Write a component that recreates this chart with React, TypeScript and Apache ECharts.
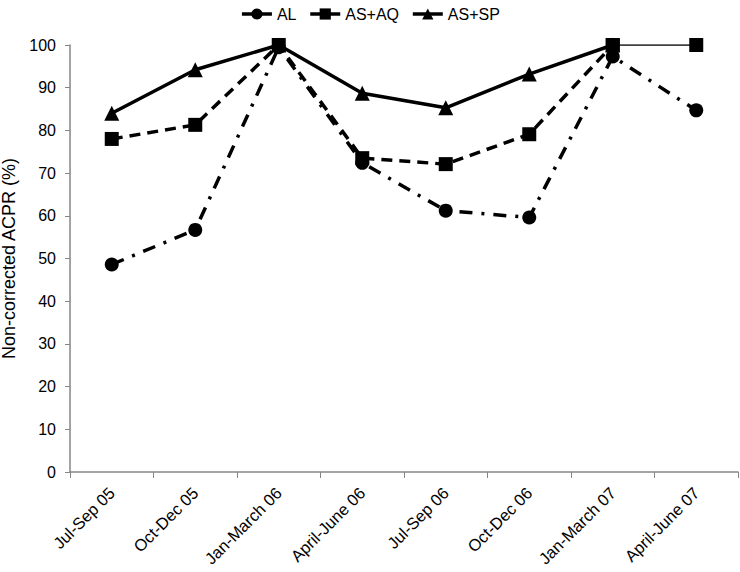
import React, { useEffect, useRef } from "react";
import * as echarts from "echarts";

const categories = ["Jul-Sep 05", "Oct-Dec 05", "Jan-March 06", "April-June 06", "Jul-Sep 06", "Oct-Dec 06", "Jan-March 07", "April-June 07"];
const alValues = [48.6, 56.7, 99.5, 72.4, 61.2, 59.6, 97.3, 84.7];
const asAqValues = [78, 81.3, 100, 73.5, 72.1, 79.1, 100, 100];
const asSpValues = [84, 94.2, 100, 88.7, 85.3, 93.2, 100, null];
const asAqTail = [null, null, null, null, null, null, 100, 100];
const yTicks = { min: 0, max: 100, interval: 10 };

export default function App() {
  const ref = useRef<HTMLDivElement>(null);
  useEffect(() => {
    const chart = echarts.init(ref.current!, null, { renderer: "svg" });
    const font = "Liberation Sans";
    chart.setOption({
      animation: false,
      textStyle: { fontFamily: font },
      legend: {
        top: 1,
        left: "center",
        itemWidth: 30,
        itemHeight: 14,
        itemGap: 12,
        lineStyle: { type: "solid", width: 3.5 },
        textStyle: { fontSize: 16, color: "#000", fontFamily: font },
        data: ["AL", "AS+AQ", "AS+SP"],
      },
      grid: { left: 70, right: 2, top: 45, bottom: 100, containLabel: false, outerBoundsMode: "none" },
      xAxis: {
        type: "category",
        data: categories,
        boundaryGap: true,
        axisLine: { lineStyle: { color: "#868686", width: 1.5 } },
        axisTick: { show: true, length: 6, lineStyle: { color: "#868686" } },
        axisLabel: { rotate: 45, fontSize: 16.5, color: "#000", margin: 18, interval: 0, fontFamily: font },
      },
      yAxis: {
        type: "value",
        min: yTicks.min,
        max: yTicks.max,
        interval: yTicks.interval,
        name: "Non-corrected ACPR (%)",
        nameLocation: "middle",
        nameGap: 46,
        nameTextStyle: { fontSize: 18, color: "#000", fontFamily: font },
        splitLine: { show: false },
        axisLine: { show: true, lineStyle: { color: "#868686", width: 1.5 } },
        axisTick: { show: true, length: 5, lineStyle: { color: "#868686" } },
        axisLabel: { fontSize: 16, color: "#000", margin: 14, fontFamily: font },
      },
      series: [
        {
          name: "AL",
          type: "line",
          data: alValues,
          symbol: "circle",
          symbolSize: 14,
          itemStyle: { color: "#000" },
          lineStyle: { color: "#000", width: 3.5, type: [13, 9, 3, 9] },
          z: 2,
        },
        {
          name: "AS+AQ",
          type: "line",
          data: asAqValues.map((v, i) => (i === 7 ? null : v)),
          symbol: "rect",
          symbolSize: 14,
          itemStyle: { color: "#000" },
          lineStyle: { color: "#000", width: 3.5, type: [11, 7] },
          z: 3,
        },
        {
          name: "AS+AQ",
          type: "line",
          data: asAqTail,
          symbol: "rect",
          symbolSize: 14,
          itemStyle: { color: "#000" },
          lineStyle: { color: "#000", width: 1.5, type: "solid" },
          z: 3,
        },
        {
          name: "AS+SP",
          type: "line",
          data: asSpValues,
          symbol: "triangle",
          symbolSize: 15,
          itemStyle: { color: "#000" },
          lineStyle: { color: "#000", width: 3.5, type: "solid" },
          z: 4,
        },
      ],
    });
    return () => chart.dispose();
  }, []);
  return <div ref={ref} style={{ width: 740, height: 572, position: "absolute", left: 0, top: 0 }} />;
}
